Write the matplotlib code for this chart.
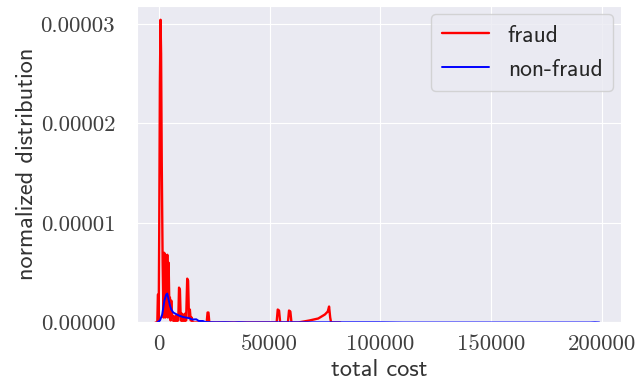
import numpy as np
import matplotlib
matplotlib.use('Agg')
import matplotlib.pyplot as plt
import seaborn as sns
from matplotlib.ticker import FuncFormatter

# density curves (x = total cost, y = density)
fraud_cost = [-1500, -700, -450, -250, -100, 150, 450, 750, 1000, 1300, 1700, 2100,
              2400, 2700, 2900, 3200, 3500, 3800, 4100, 4400, 4700, 5000, 5300, 5600,
              5900, 6300, 6700, 7100, 7500, 7900, 8300, 8800, 9100, 9500, 9900, 10300,
              10700, 11100, 11500, 11900, 12300, 12800, 13200, 13600, 14000, 14400,
              14800, 15300, 17000, 21600, 22000, 22400, 22800, 53200, 53700, 54300,
              54800, 58300, 58800, 59400, 59900, 63000, 68000, 72000, 75000, 76300,
              76900, 77400, 77800, 82000]
fraud_density = [0, 0, 0.28, 0.28, 0.0, 0.9, 2.4, 3.04, 2.7, 1.6, 0.6, 0.05,
                 0.7, 0.68, 0.05, 0.62, 0.1, 0.68, 0.05, 0.6, 0.2, 0.25, 0.02, 0.22,
                 0.05, 0.07, 0.01, 0.06, 0.0, 0.07, 0.01, 0.06, 0.35, 0.33, 0.02, 0.09,
                 0.01, 0.08, 0.0, 0.09, 0.02, 0.44, 0.42, 0.05, 0.13, 0.02,
                 0.05, 0.0, 0.0, 0.0, 0.1, 0.1, 0.0, 0.0, 0.13, 0.12,
                 0.0, 0.0, 0.12, 0.11, 0.0, 0.0, 0.02, 0.04, 0.08, 0.11,
                 0.16, 0.05, 0.0, 0.0]

nonfraud_cost = [-800, 500, 1500, 2500, 3300, 3800, 4300, 5000, 5600, 6500, 7900, 9000,
                 10900, 12000, 13900, 15000, 16900, 18000, 19900, 21000, 23000, 26000,
                 30000, 34000, 36000, 40000, 60000, 80000, 100000, 110000, 150000,
                 195000, 197000, 199000]
nonfraud_density = [0, 0.02, 0.08, 0.22, 0.28, 0.29, 0.24, 0.17, 0.13, 0.1, 0.083, 0.07,
                    0.055, 0.05, 0.042, 0.03, 0.032, 0.015, 0.015, 0.005, 0.003, 0.002,
                    0.003, 0.001, 0.003, 0.001, 0.002, 0.002, 0.002, 0.0, 0.0,
                    0.0, 0.002, 0.0]

sns.set_style('darkgrid')
plt.rcParams['font.family'] = ['cmss10', 'DejaVu Sans']
plt.rcParams['axes.unicode_minus'] = False

fig = plt.figure(figsize=(6.42, 3.89), dpi=100)
ax = fig.add_axes([0.213, 0.171, 0.755, 0.814])

ax.plot(fraud_cost, np.array(fraud_density) * 1e-5, color='red', lw=1.7, label='fraud')
ax.plot(nonfraud_cost, np.array(nonfraud_density) * 1e-5, color='blue', lw=1.4, label='non-fraud')

ax.set_xlim(-10000, 209000)
ax.set_ylim(0, 3.18e-5)
ax.set_xticks([0, 50000, 100000, 150000, 200000])
ax.set_yticks([0, 1e-5, 2e-5, 3e-5])
ax.yaxis.set_major_formatter(FuncFormatter(lambda v, p: '%.5f' % v))
ax.tick_params(axis='y', pad=12)
ax.tick_params(axis='x', pad=5)
for lab in ax.get_xticklabels() + ax.get_yticklabels():
    lab.set_family('cmr10')
    lab.set_fontsize(16.5)
    lab.set_color('0.25')

ax.set_xlabel('total cost', fontsize=17.5, color='0.2', labelpad=4)
ax.set_ylabel('normalized distribution', fontsize=17.5, color='0.2', labelpad=2)
ax.legend(loc='upper right', fontsize=17, borderaxespad=0.35, borderpad=0.45)

fig.savefig('out.png', dpi=100)
